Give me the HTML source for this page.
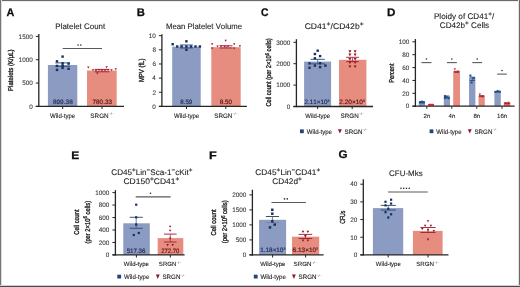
<!DOCTYPE html>
<html><head><meta charset="utf-8"><style>
html,body{margin:0;padding:0;background:#fff;}
body{width:520px;height:287px;overflow:hidden;position:relative;}
svg{position:absolute;left:0;top:0;display:block;will-change:transform;}
text{font-family:"Liberation Sans", sans-serif;font-kerning:none;text-rendering:geometricPrecision;}
</style></head><body>
<svg width="520" height="287" viewBox="0 0 520 287">
<rect x="0" y="0" width="520" height="287" fill="#fff"/>
<text x="6.53" y="15.50" font-size="11.0" font-weight="bold" fill="#0d0d0d" stroke="#0d0d0d" stroke-width="0.25" textLength="7.84" lengthAdjust="spacingAndGlyphs">A</text>
<text x="55.36" y="28.80" font-size="8.00" fill="#1c1c1c" stroke="#1c1c1c" stroke-width="0.1" textLength="49.81" lengthAdjust="spacingAndGlyphs">Platelet Count</text>
<rect x="47.90" y="65.00" width="29.40" height="41.40" fill="#8c9bc1"/>
<rect x="87.00" y="70.50" width="29.70" height="35.90" fill="#e68d80"/>
<line x1="38.80" y1="34.00" x2="38.80" y2="107.05" stroke="#252525" stroke-width="1.3"/>
<line x1="35.80" y1="106.40" x2="124.00" y2="106.40" stroke="#252525" stroke-width="1.3"/>
<line x1="35.80" y1="106.40" x2="38.80" y2="106.40" stroke="#252525" stroke-width="1"/>
<text x="29.27" y="108.69" font-size="6.40" fill="#3c3c3c" stroke="#3c3c3c" stroke-width="0.1" textLength="3.55" lengthAdjust="spacingAndGlyphs">0</text>
<line x1="35.80" y1="83.07" x2="38.80" y2="83.07" stroke="#252525" stroke-width="1"/>
<text x="22.17" y="85.36" font-size="6.40" fill="#3c3c3c" stroke="#3c3c3c" stroke-width="0.1" textLength="10.66" lengthAdjust="spacingAndGlyphs">500</text>
<line x1="35.80" y1="59.73" x2="38.80" y2="59.73" stroke="#252525" stroke-width="1"/>
<text x="18.62" y="62.02" font-size="6.40" fill="#3c3c3c" stroke="#3c3c3c" stroke-width="0.1" textLength="14.21" lengthAdjust="spacingAndGlyphs">1000</text>
<line x1="35.80" y1="36.40" x2="38.80" y2="36.40" stroke="#252525" stroke-width="1"/>
<text x="18.62" y="38.69" font-size="6.40" fill="#3c3c3c" stroke="#3c3c3c" stroke-width="0.1" textLength="14.21" lengthAdjust="spacingAndGlyphs">1500</text>
<line x1="62.70" y1="106.40" x2="62.70" y2="109.00" stroke="#252525" stroke-width="1"/>
<line x1="102.00" y1="106.40" x2="102.00" y2="109.00" stroke="#252525" stroke-width="1"/>
<text x="52.91" y="103.90" font-size="6.30" fill="#1e2a52" stroke="#1e2a52" stroke-width="0.16" textLength="19.85" lengthAdjust="spacingAndGlyphs">899.38</text>
<text x="92.58" y="103.90" font-size="6.30" fill="#561414" stroke="#561414" stroke-width="0.16" textLength="19.37" lengthAdjust="spacingAndGlyphs">780.33</text>
<text x="50.02" y="117.60" font-size="6.40" fill="#1c1c1c" stroke="#1c1c1c" stroke-width="0.1" textLength="25.20" lengthAdjust="spacingAndGlyphs">Wild-type</text>
<text x="90.37" y="117.60" font-size="6.40" fill="#1c1c1c" stroke="#1c1c1c" stroke-width="0.1" textLength="23.33" lengthAdjust="spacingAndGlyphs">SRGN<tspan dy="-2.30" font-size="3.52" fill="#a8a8a8">−/−</tspan></text>
<text x="0" y="0" font-size="7.10" fill="#1c1c1c" stroke="#1c1c1c" stroke-width="0.34" textLength="41.58" lengthAdjust="spacingAndGlyphs" transform="translate(13.10,90.99) rotate(-90)">Platelets (K/μL)</text>
<line x1="62.60" y1="48.55" x2="102.00" y2="48.55" stroke="#5a5a5a" stroke-width="1.1"/>
<circle cx="78.08" cy="44.95" r="0.8" fill="#2a2a2a"/>
<circle cx="80.83" cy="44.95" r="0.8" fill="#2a2a2a"/>
<line x1="62.70" y1="62.90" x2="62.70" y2="66.30" stroke="#2e5080" stroke-width="0.7124999999999999"/>
<line x1="55.30" y1="62.90" x2="70.10" y2="62.90" stroke="#2e5080" stroke-width="0.95"/>
<line x1="55.30" y1="66.30" x2="70.10" y2="66.30" stroke="#2e5080" stroke-width="0.95" stroke-opacity="1.0"/>
<rect x="61.40" y="55.40" width="2.40" height="2.40" fill="#16315e"/>
<rect x="55.80" y="60.10" width="2.40" height="2.40" fill="#16315e"/>
<rect x="61.40" y="62.10" width="2.40" height="2.40" fill="#16315e"/>
<rect x="67.40" y="62.40" width="2.40" height="2.40" fill="#16315e"/>
<rect x="55.80" y="64.70" width="2.40" height="2.40" fill="#16315e"/>
<rect x="61.40" y="64.40" width="2.40" height="2.40" fill="#16315e"/>
<rect x="61.40" y="66.70" width="2.40" height="2.40" fill="#16315e"/>
<rect x="67.40" y="67.60" width="2.40" height="2.40" fill="#16315e"/>
<rect x="55.80" y="68.70" width="2.40" height="2.40" fill="#16315e"/>
<line x1="102.00" y1="69.40" x2="102.00" y2="71.80" stroke="#a02535" stroke-width="0.7124999999999999"/>
<line x1="94.60" y1="69.40" x2="109.40" y2="69.40" stroke="#a02535" stroke-width="0.95"/>
<line x1="94.60" y1="71.80" x2="109.40" y2="71.80" stroke="#a02535" stroke-width="0.95" stroke-opacity="1.0"/>
<polygon points="87.10,66.58 89.50,66.58 88.30,68.62" fill="#a8132a"/>
<polygon points="105.40,66.18 107.80,66.18 106.60,68.22" fill="#a8132a"/>
<polygon points="114.60,68.28 117.00,68.28 115.80,70.32" fill="#a8132a"/>
<polygon points="91.80,69.18 94.20,69.18 93.00,71.22" fill="#a8132a"/>
<polygon points="94.80,69.38 97.20,69.38 96.00,71.42" fill="#a8132a"/>
<polygon points="97.80,68.98 100.20,68.98 99.00,71.02" fill="#a8132a"/>
<polygon points="100.80,69.18 103.20,69.18 102.00,71.22" fill="#a8132a"/>
<polygon points="103.80,69.38 106.20,69.38 105.00,71.42" fill="#a8132a"/>
<polygon points="106.80,69.08 109.20,69.08 108.00,71.12" fill="#a8132a"/>
<polygon points="110.30,69.28 112.70,69.28 111.50,71.32" fill="#a8132a"/>
<polygon points="96.10,72.48 98.50,72.48 97.30,74.52" fill="#a8132a"/>
<text x="136.86" y="15.50" font-size="11.0" font-weight="bold" fill="#0d0d0d" stroke="#0d0d0d" stroke-width="0.25" textLength="8.14" lengthAdjust="spacingAndGlyphs">B</text>
<text x="165.98" y="28.80" font-size="8.00" fill="#1c1c1c" stroke="#1c1c1c" stroke-width="0.1" textLength="76.07" lengthAdjust="spacingAndGlyphs">Mean Platelet Volume</text>
<rect x="172.20" y="46.60" width="28.50" height="59.80" fill="#8c9bc1"/>
<rect x="211.30" y="47.20" width="29.40" height="59.20" fill="#e68d80"/>
<line x1="161.90" y1="34.20" x2="161.90" y2="107.05" stroke="#252525" stroke-width="1.3"/>
<line x1="158.90" y1="106.40" x2="246.90" y2="106.40" stroke="#252525" stroke-width="1.3"/>
<line x1="158.90" y1="106.40" x2="161.90" y2="106.40" stroke="#252525" stroke-width="1"/>
<text x="152.37" y="108.69" font-size="6.40" fill="#3c3c3c" stroke="#3c3c3c" stroke-width="0.1" textLength="3.55" lengthAdjust="spacingAndGlyphs">0</text>
<line x1="158.90" y1="92.26" x2="161.90" y2="92.26" stroke="#252525" stroke-width="1"/>
<text x="152.47" y="94.55" font-size="6.40" fill="#3c3c3c" stroke="#3c3c3c" stroke-width="0.1" textLength="3.55" lengthAdjust="spacingAndGlyphs">2</text>
<line x1="158.90" y1="78.12" x2="161.90" y2="78.12" stroke="#252525" stroke-width="1"/>
<text x="152.34" y="80.41" font-size="6.40" fill="#3c3c3c" stroke="#3c3c3c" stroke-width="0.1" textLength="3.55" lengthAdjust="spacingAndGlyphs">4</text>
<line x1="158.90" y1="63.98" x2="161.90" y2="63.98" stroke="#252525" stroke-width="1"/>
<text x="152.40" y="66.27" font-size="6.40" fill="#3c3c3c" stroke="#3c3c3c" stroke-width="0.1" textLength="3.55" lengthAdjust="spacingAndGlyphs">6</text>
<line x1="158.90" y1="49.84" x2="161.90" y2="49.84" stroke="#252525" stroke-width="1"/>
<text x="152.40" y="52.13" font-size="6.40" fill="#3c3c3c" stroke="#3c3c3c" stroke-width="0.1" textLength="3.55" lengthAdjust="spacingAndGlyphs">8</text>
<line x1="158.90" y1="35.70" x2="161.90" y2="35.70" stroke="#252525" stroke-width="1"/>
<text x="148.82" y="37.99" font-size="6.40" fill="#3c3c3c" stroke="#3c3c3c" stroke-width="0.1" textLength="7.10" lengthAdjust="spacingAndGlyphs">10</text>
<line x1="186.50" y1="106.40" x2="186.50" y2="109.00" stroke="#252525" stroke-width="1"/>
<line x1="225.80" y1="106.40" x2="225.80" y2="109.00" stroke="#252525" stroke-width="1"/>
<text x="180.33" y="103.80" font-size="6.30" fill="#1e2a52" stroke="#1e2a52" stroke-width="0.16" textLength="11.85" lengthAdjust="spacingAndGlyphs">8.59</text>
<text x="219.71" y="103.80" font-size="6.30" fill="#561414" stroke="#561414" stroke-width="0.16" textLength="12.41" lengthAdjust="spacingAndGlyphs">8.50</text>
<text x="174.02" y="117.60" font-size="6.40" fill="#1c1c1c" stroke="#1c1c1c" stroke-width="0.1" textLength="25.20" lengthAdjust="spacingAndGlyphs">Wild-type</text>
<text x="214.17" y="117.60" font-size="6.40" fill="#1c1c1c" stroke="#1c1c1c" stroke-width="0.1" textLength="23.33" lengthAdjust="spacingAndGlyphs">SRGN<tspan dy="-2.30" font-size="3.52" fill="#a8a8a8">−/−</tspan></text>
<text x="0" y="0" font-size="7.30" fill="#1c1c1c" stroke="#1c1c1c" stroke-width="0.34" textLength="23.46" lengthAdjust="spacingAndGlyphs" transform="translate(143.60,82.08) rotate(-90)">MPV (fL)</text>
<line x1="186.40" y1="45.00" x2="186.40" y2="48.00" stroke="#2e5080" stroke-width="0.7124999999999999"/>
<line x1="179.90" y1="45.00" x2="192.90" y2="45.00" stroke="#2e5080" stroke-width="0.95"/>
<line x1="179.90" y1="48.00" x2="192.90" y2="48.00" stroke="#2e5080" stroke-width="0.95" stroke-opacity="1.0"/>
<rect x="171.50" y="43.00" width="2.40" height="2.40" fill="#16315e"/>
<rect x="185.20" y="40.10" width="2.40" height="2.40" fill="#16315e"/>
<rect x="176.00" y="45.30" width="2.40" height="2.40" fill="#16315e"/>
<rect x="180.40" y="45.30" width="2.40" height="2.40" fill="#16315e"/>
<rect x="185.20" y="45.30" width="2.40" height="2.40" fill="#16315e"/>
<rect x="189.80" y="45.30" width="2.40" height="2.40" fill="#16315e"/>
<rect x="194.30" y="45.30" width="2.40" height="2.40" fill="#16315e"/>
<rect x="198.70" y="45.30" width="2.40" height="2.40" fill="#16315e"/>
<rect x="185.20" y="48.60" width="2.40" height="2.40" fill="#16315e"/>
<line x1="226.00" y1="45.80" x2="226.00" y2="48.00" stroke="#a02535" stroke-width="0.7124999999999999"/>
<line x1="219.50" y1="45.80" x2="232.50" y2="45.80" stroke="#a02535" stroke-width="0.95"/>
<line x1="219.50" y1="48.00" x2="232.50" y2="48.00" stroke="#a02535" stroke-width="0.95" stroke-opacity="1.0"/>
<polygon points="224.50,39.68 226.90,39.68 225.70,41.72" fill="#a8132a"/>
<polygon points="210.90,43.18 213.30,43.18 212.10,45.22" fill="#a8132a"/>
<polygon points="233.00,43.18 235.40,43.18 234.20,45.22" fill="#a8132a"/>
<polygon points="238.70,45.28 241.10,45.28 239.90,47.32" fill="#a8132a"/>
<polygon points="216.30,45.58 218.70,45.58 217.50,47.62" fill="#a8132a"/>
<polygon points="219.80,45.58 222.20,45.58 221.00,47.62" fill="#a8132a"/>
<polygon points="223.30,45.58 225.70,45.58 224.50,47.62" fill="#a8132a"/>
<polygon points="226.80,45.58 229.20,45.58 228.00,47.62" fill="#a8132a"/>
<polygon points="210.90,47.48 213.30,47.48 212.10,49.52" fill="#a8132a"/>
<polygon points="233.00,47.48 235.40,47.48 234.20,49.52" fill="#a8132a"/>
<text x="261.08" y="15.50" font-size="11.0" font-weight="bold" fill="#0d0d0d" stroke="#0d0d0d" stroke-width="0.25" textLength="7.47" lengthAdjust="spacingAndGlyphs">C</text>
<text x="304.67" y="28.90" font-size="8.10" fill="#1c1c1c" stroke="#1c1c1c" stroke-width="0.1" textLength="58.93" lengthAdjust="spacingAndGlyphs">CD41<tspan dy="-2.92" font-size="6.32">+</tspan><tspan dy="2.92">/CD42b</tspan><tspan dy="-2.92" font-size="6.32">+</tspan></text>
<rect x="304.10" y="61.60" width="27.00" height="44.90" fill="#8c9bc1"/>
<rect x="339.00" y="59.80" width="27.40" height="46.70" fill="#e68d80"/>
<line x1="296.40" y1="39.20" x2="296.40" y2="107.15" stroke="#252525" stroke-width="1.3"/>
<line x1="293.40" y1="106.50" x2="373.00" y2="106.50" stroke="#252525" stroke-width="1.3"/>
<line x1="293.40" y1="106.50" x2="296.40" y2="106.50" stroke="#252525" stroke-width="1"/>
<text x="286.87" y="108.79" font-size="6.40" fill="#3c3c3c" stroke="#3c3c3c" stroke-width="0.1" textLength="3.55" lengthAdjust="spacingAndGlyphs">0</text>
<line x1="293.40" y1="85.10" x2="296.40" y2="85.10" stroke="#252525" stroke-width="1"/>
<text x="276.22" y="87.39" font-size="6.40" fill="#3c3c3c" stroke="#3c3c3c" stroke-width="0.1" textLength="14.21" lengthAdjust="spacingAndGlyphs">1000</text>
<line x1="293.40" y1="63.70" x2="296.40" y2="63.70" stroke="#252525" stroke-width="1"/>
<text x="276.22" y="65.99" font-size="6.40" fill="#3c3c3c" stroke="#3c3c3c" stroke-width="0.1" textLength="14.21" lengthAdjust="spacingAndGlyphs">2000</text>
<line x1="293.40" y1="42.30" x2="296.40" y2="42.30" stroke="#252525" stroke-width="1"/>
<text x="276.22" y="44.59" font-size="6.40" fill="#3c3c3c" stroke="#3c3c3c" stroke-width="0.1" textLength="14.21" lengthAdjust="spacingAndGlyphs">3000</text>
<line x1="317.60" y1="106.50" x2="317.60" y2="109.10" stroke="#252525" stroke-width="1"/>
<line x1="352.20" y1="106.50" x2="352.20" y2="109.10" stroke="#252525" stroke-width="1"/>
<text x="304.48" y="104.20" font-size="6.30" fill="#1e2a52" stroke="#1e2a52" stroke-width="0.16" textLength="24.97" lengthAdjust="spacingAndGlyphs">2.11×10<tspan dy="-2.27" font-size="3.47">3</tspan></text>
<text x="339.27" y="104.20" font-size="6.30" fill="#561414" stroke="#561414" stroke-width="0.16" textLength="25.69" lengthAdjust="spacingAndGlyphs">2.20×10<tspan dy="-2.27" font-size="3.47">3</tspan></text>
<text x="305.27" y="117.60" font-size="6.30" fill="#1c1c1c" stroke="#1c1c1c" stroke-width="0.1" textLength="24.90" lengthAdjust="spacingAndGlyphs">Wild-type</text>
<text x="340.60" y="117.60" font-size="6.30" fill="#1c1c1c" stroke="#1c1c1c" stroke-width="0.1" textLength="23.07" lengthAdjust="spacingAndGlyphs">SRGN<tspan dy="-2.27" font-size="3.47" fill="#a8a8a8">−/−</tspan></text>
<text x="0" y="0" font-size="7.10" fill="#1c1c1c" stroke="#1c1c1c" stroke-width="0.34" textLength="68.35" lengthAdjust="spacingAndGlyphs" transform="translate(271.40,106.58) rotate(-90)">Cell count (per 2×10<tspan dy="-2.56" font-size="5.54">6</tspan><tspan dy="2.56"> cells)</tspan></text>
<rect x="300.00" y="129.40" width="3.80" height="3.80" fill="#24427c"/>
<text x="306.77" y="133.50" font-size="6.40" fill="#1c1c1c" stroke="#1c1c1c" stroke-width="0.1" textLength="25.20" lengthAdjust="spacingAndGlyphs">Wild-type</text>
<polygon points="338.00,129.20 341.80,129.20 339.90,133.60" fill="#8e1526"/>
<text x="344.52" y="133.50" font-size="6.40" fill="#1c1c1c" stroke="#1c1c1c" stroke-width="0.1" textLength="22.93" lengthAdjust="spacingAndGlyphs">SRGN<tspan dy="-2.30" font-size="3.52" fill="#a8a8a8">−/−</tspan></text>
<line x1="317.70" y1="59.30" x2="317.70" y2="63.80" stroke="#2e5080" stroke-width="0.7124999999999999"/>
<line x1="310.50" y1="59.30" x2="324.90" y2="59.30" stroke="#2e5080" stroke-width="0.95"/>
<line x1="310.50" y1="63.80" x2="324.90" y2="63.80" stroke="#2e5080" stroke-width="0.95" stroke-opacity="1.0"/>
<rect x="316.50" y="49.50" width="2.40" height="2.40" fill="#16315e"/>
<rect x="313.70" y="52.80" width="2.40" height="2.40" fill="#16315e"/>
<rect x="318.90" y="54.90" width="2.40" height="2.40" fill="#16315e"/>
<rect x="313.70" y="57.10" width="2.40" height="2.40" fill="#16315e"/>
<rect x="308.30" y="62.20" width="2.40" height="2.40" fill="#16315e"/>
<rect x="318.90" y="62.00" width="2.40" height="2.40" fill="#16315e"/>
<rect x="313.70" y="64.40" width="2.40" height="2.40" fill="#16315e"/>
<rect x="324.20" y="64.40" width="2.40" height="2.40" fill="#16315e"/>
<rect x="308.30" y="66.60" width="2.40" height="2.40" fill="#16315e"/>
<rect x="318.90" y="65.90" width="2.40" height="2.40" fill="#16315e"/>
<line x1="352.50" y1="57.30" x2="352.50" y2="61.70" stroke="#a02535" stroke-width="0.7124999999999999"/>
<line x1="346.10" y1="57.30" x2="358.90" y2="57.30" stroke="#a02535" stroke-width="0.95"/>
<line x1="346.10" y1="61.70" x2="358.90" y2="61.70" stroke="#a02535" stroke-width="0.95" stroke-opacity="1.0"/>
<polygon points="348.40,50.33 351.40,50.33 349.90,52.88" fill="#8e1222"/>
<polygon points="353.60,50.33 356.60,50.33 355.10,52.88" fill="#8e1222"/>
<polygon points="348.40,53.62 351.40,53.62 349.90,56.17" fill="#8e1222"/>
<polygon points="353.60,53.62 356.60,53.62 355.10,56.17" fill="#8e1222"/>
<polygon points="348.40,58.02 351.40,58.02 349.90,60.57" fill="#8e1222"/>
<polygon points="353.60,58.02 356.60,58.02 355.10,60.57" fill="#8e1222"/>
<polygon points="348.40,61.33 351.40,61.33 349.90,63.88" fill="#8e1222"/>
<polygon points="353.60,61.33 356.60,61.33 355.10,63.88" fill="#8e1222"/>
<polygon points="348.40,65.52 351.40,65.52 349.90,68.08" fill="#8e1222"/>
<polygon points="353.60,65.52 356.60,65.52 355.10,68.08" fill="#8e1222"/>
<text x="387.04" y="15.50" font-size="11.0" font-weight="bold" fill="#0d0d0d" stroke="#0d0d0d" stroke-width="0.25" textLength="8.43" lengthAdjust="spacingAndGlyphs">D</text>
<text x="433.95" y="19.10" font-size="8.10" fill="#1c1c1c" stroke="#1c1c1c" stroke-width="0.1" textLength="60.25" lengthAdjust="spacingAndGlyphs">Ploidy of CD41<tspan dy="-2.92" font-size="6.32">+</tspan><tspan dy="2.92">/</tspan></text>
<text x="439.79" y="27.70" font-size="8.10" fill="#1c1c1c" stroke="#1c1c1c" stroke-width="0.1" textLength="49.39" lengthAdjust="spacingAndGlyphs">CD42b<tspan dy="-2.92" font-size="6.32">+</tspan><tspan dy="2.92"> Cells</tspan></text>
<rect x="418.80" y="101.40" width="6.20" height="4.80" fill="#8c9bc1"/>
<rect x="428.00" y="104.20" width="6.10" height="2.00" fill="#e68d80"/>
<rect x="443.80" y="96.30" width="6.20" height="9.90" fill="#8c9bc1"/>
<rect x="453.20" y="70.90" width="6.80" height="35.30" fill="#e68d80"/>
<rect x="469.00" y="77.50" width="6.40" height="28.70" fill="#8c9bc1"/>
<rect x="478.50" y="95.70" width="6.30" height="10.50" fill="#e68d80"/>
<rect x="494.40" y="90.80" width="6.40" height="15.40" fill="#8c9bc1"/>
<rect x="503.80" y="102.20" width="6.30" height="4.00" fill="#e68d80"/>
<line x1="415.40" y1="39.00" x2="415.40" y2="106.85" stroke="#252525" stroke-width="1.3"/>
<line x1="412.40" y1="106.20" x2="514.60" y2="106.20" stroke="#252525" stroke-width="1.3"/>
<line x1="412.40" y1="106.20" x2="415.40" y2="106.20" stroke="#252525" stroke-width="1"/>
<text x="405.87" y="108.49" font-size="6.40" fill="#3c3c3c" stroke="#3c3c3c" stroke-width="0.1" textLength="3.55" lengthAdjust="spacingAndGlyphs">0</text>
<line x1="412.40" y1="93.32" x2="415.40" y2="93.32" stroke="#252525" stroke-width="1"/>
<text x="402.32" y="95.61" font-size="6.40" fill="#3c3c3c" stroke="#3c3c3c" stroke-width="0.1" textLength="7.10" lengthAdjust="spacingAndGlyphs">20</text>
<line x1="412.40" y1="80.44" x2="415.40" y2="80.44" stroke="#252525" stroke-width="1"/>
<text x="402.32" y="82.73" font-size="6.40" fill="#3c3c3c" stroke="#3c3c3c" stroke-width="0.1" textLength="7.10" lengthAdjust="spacingAndGlyphs">40</text>
<line x1="412.40" y1="67.56" x2="415.40" y2="67.56" stroke="#252525" stroke-width="1"/>
<text x="402.32" y="69.85" font-size="6.40" fill="#3c3c3c" stroke="#3c3c3c" stroke-width="0.1" textLength="7.10" lengthAdjust="spacingAndGlyphs">60</text>
<line x1="412.40" y1="54.68" x2="415.40" y2="54.68" stroke="#252525" stroke-width="1"/>
<text x="402.32" y="56.97" font-size="6.40" fill="#3c3c3c" stroke="#3c3c3c" stroke-width="0.1" textLength="7.10" lengthAdjust="spacingAndGlyphs">80</text>
<line x1="412.40" y1="41.80" x2="415.40" y2="41.80" stroke="#252525" stroke-width="1"/>
<text x="398.77" y="44.09" font-size="6.40" fill="#3c3c3c" stroke="#3c3c3c" stroke-width="0.1" textLength="10.66" lengthAdjust="spacingAndGlyphs">100</text>
<line x1="426.80" y1="106.20" x2="426.80" y2="108.80" stroke="#252525" stroke-width="1"/>
<line x1="451.80" y1="106.20" x2="451.80" y2="108.80" stroke="#252525" stroke-width="1"/>
<line x1="476.80" y1="106.20" x2="476.80" y2="108.80" stroke="#252525" stroke-width="1"/>
<line x1="502.00" y1="106.20" x2="502.00" y2="108.80" stroke="#252525" stroke-width="1"/>
<text x="423.56" y="117.80" font-size="6.10" fill="#1c1c1c" stroke="#1c1c1c" stroke-width="0.1" textLength="6.77" lengthAdjust="spacingAndGlyphs">2n</text>
<text x="448.55" y="117.80" font-size="6.10" fill="#1c1c1c" stroke="#1c1c1c" stroke-width="0.1" textLength="6.77" lengthAdjust="spacingAndGlyphs">4n</text>
<text x="473.38" y="117.80" font-size="6.10" fill="#1c1c1c" stroke="#1c1c1c" stroke-width="0.1" textLength="6.77" lengthAdjust="spacingAndGlyphs">8n</text>
<text x="497.09" y="117.80" font-size="6.10" fill="#1c1c1c" stroke="#1c1c1c" stroke-width="0.1" textLength="10.16" lengthAdjust="spacingAndGlyphs">16n</text>
<text x="0" y="0" font-size="7.20" fill="#1c1c1c" stroke="#1c1c1c" stroke-width="0.34" textLength="19.10" lengthAdjust="spacingAndGlyphs" transform="translate(394.30,82.64) rotate(-90)">Percent</text>
<line x1="421.40" y1="62.60" x2="431.50" y2="62.60" stroke="#5a5a5a" stroke-width="1.1"/>
<circle cx="426.45" cy="59.00" r="0.8" fill="#2a2a2a"/>
<line x1="446.90" y1="62.60" x2="456.80" y2="62.60" stroke="#5a5a5a" stroke-width="1.1"/>
<circle cx="451.85" cy="59.00" r="0.8" fill="#2a2a2a"/>
<line x1="472.30" y1="62.60" x2="482.10" y2="62.60" stroke="#5a5a5a" stroke-width="1.1"/>
<circle cx="477.20" cy="59.00" r="0.8" fill="#2a2a2a"/>
<line x1="497.20" y1="74.10" x2="506.80" y2="74.10" stroke="#5a5a5a" stroke-width="1.1"/>
<circle cx="502.00" cy="70.50" r="0.8" fill="#2a2a2a"/>
<rect x="419.00" y="101.30" width="5.80" height="2.20" fill="#21508c"/>
<rect x="419.30" y="101.00" width="1.80" height="1.80" fill="#21508c"/>
<rect x="421.10" y="100.60" width="1.80" height="1.80" fill="#21508c"/>
<rect x="422.70" y="101.30" width="1.80" height="1.80" fill="#21508c"/>
<rect x="428.10" y="104.20" width="5.90" height="1.60" fill="#c42034"/>
<polygon points="428.70,103.66 430.90,103.66 429.80,105.53" fill="#c42034"/>
<polygon points="431.10,103.66 433.30,103.66 432.20,105.53" fill="#c42034"/>
<line x1="446.80" y1="96.00" x2="446.80" y2="98.00" stroke="#2e5080" stroke-width="0.675"/>
<line x1="444.20" y1="96.00" x2="449.40" y2="96.00" stroke="#2e5080" stroke-width="0.9"/>
<line x1="444.20" y1="98.00" x2="449.40" y2="98.00" stroke="#2e5080" stroke-width="0.9" stroke-opacity="1.0"/>
<rect x="443.95" y="94.95" width="2.10" height="2.10" fill="#21508c"/>
<rect x="443.95" y="96.95" width="2.10" height="2.10" fill="#21508c"/>
<rect x="447.65" y="97.15" width="2.10" height="2.10" fill="#21508c"/>
<rect x="445.45" y="95.95" width="2.10" height="2.10" fill="#21508c"/>
<line x1="456.60" y1="71.30" x2="456.60" y2="72.40" stroke="#a02535" stroke-width="0.675"/>
<line x1="454.00" y1="71.30" x2="459.20" y2="71.30" stroke="#a02535" stroke-width="0.9"/>
<line x1="454.00" y1="72.40" x2="459.20" y2="72.40" stroke="#a02535" stroke-width="0.9" stroke-opacity="1.0"/>
<polygon points="453.60,68.28 456.00,68.28 454.80,70.32" fill="#c42034"/>
<polygon points="457.00,70.78 459.40,70.78 458.20,72.82" fill="#c42034"/>
<line x1="472.40" y1="77.20" x2="472.40" y2="80.50" stroke="#2e5080" stroke-width="0.675"/>
<line x1="469.80" y1="77.20" x2="475.00" y2="77.20" stroke="#2e5080" stroke-width="0.9"/>
<line x1="469.80" y1="80.50" x2="475.00" y2="80.50" stroke="#2e5080" stroke-width="0.9" stroke-opacity="1.0"/>
<rect x="469.35" y="74.55" width="2.10" height="2.10" fill="#21508c"/>
<rect x="472.75" y="77.15" width="2.10" height="2.10" fill="#21508c"/>
<rect x="470.55" y="81.45" width="2.10" height="2.10" fill="#21508c"/>
<line x1="481.60" y1="95.60" x2="481.60" y2="96.60" stroke="#a02535" stroke-width="0.675"/>
<line x1="479.00" y1="95.60" x2="484.20" y2="95.60" stroke="#a02535" stroke-width="0.9"/>
<line x1="479.00" y1="96.60" x2="484.20" y2="96.60" stroke="#a02535" stroke-width="0.9" stroke-opacity="1.0"/>
<polygon points="478.60,93.48 481.00,93.48 479.80,95.52" fill="#c42034"/>
<polygon points="481.10,95.98 483.50,95.98 482.30,98.02" fill="#c42034"/>
<rect x="494.60" y="91.00" width="6.10" height="1.60" fill="#21508c"/>
<rect x="494.65" y="91.05" width="1.90" height="1.90" fill="#21508c"/>
<rect x="496.65" y="89.95" width="1.90" height="1.90" fill="#21508c"/>
<rect x="498.65" y="90.65" width="1.90" height="1.90" fill="#21508c"/>
<rect x="504.20" y="102.60" width="6.00" height="1.80" fill="#c42034"/>
<polygon points="504.50,101.97 506.70,101.97 505.60,103.84" fill="#c42034"/>
<polygon points="507.30,101.66 509.50,101.66 508.40,103.53" fill="#c42034"/>
<rect x="429.60" y="129.40" width="3.80" height="3.80" fill="#24427c"/>
<text x="436.37" y="133.50" font-size="6.40" fill="#1c1c1c" stroke="#1c1c1c" stroke-width="0.1" textLength="25.20" lengthAdjust="spacingAndGlyphs">Wild-type</text>
<polygon points="467.90,129.20 471.70,129.20 469.80,133.60" fill="#8e1526"/>
<text x="474.42" y="133.50" font-size="6.40" fill="#1c1c1c" stroke="#1c1c1c" stroke-width="0.1" textLength="22.93" lengthAdjust="spacingAndGlyphs">SRGN<tspan dy="-2.30" font-size="3.52" fill="#a8a8a8">−/−</tspan></text>
<text x="71.32" y="158.70" font-size="11.0" font-weight="bold" fill="#0d0d0d" stroke="#0d0d0d" stroke-width="0.25" textLength="8.00" lengthAdjust="spacingAndGlyphs">E</text>
<text x="111.29" y="174.90" font-size="8.10" fill="#1c1c1c" stroke="#1c1c1c" stroke-width="0.1" textLength="81.19" lengthAdjust="spacingAndGlyphs">CD45<tspan dy="-2.92" font-size="6.32">+</tspan><tspan dy="2.92">Lin</tspan><tspan dy="-2.92" font-size="6.32">−</tspan><tspan dy="2.92">Sca-1</tspan><tspan dy="-2.92" font-size="6.32">−</tspan><tspan dy="2.92">cKit</tspan><tspan dy="-2.92" font-size="6.32">+</tspan></text>
<text x="123.47" y="184.40" font-size="8.10" fill="#1c1c1c" stroke="#1c1c1c" stroke-width="0.1" textLength="55.92" lengthAdjust="spacingAndGlyphs">CD150<tspan dy="-2.92" font-size="6.32">+</tspan><tspan dy="2.92">CD41</tspan><tspan dy="-2.92" font-size="6.32">+</tspan></text>
<rect x="123.30" y="223.30" width="26.50" height="31.60" fill="#8c9bc1"/>
<rect x="157.70" y="238.10" width="25.60" height="16.80" fill="#e68d80"/>
<line x1="115.40" y1="190.10" x2="115.40" y2="255.55" stroke="#252525" stroke-width="1.3"/>
<line x1="112.40" y1="254.90" x2="184.60" y2="254.90" stroke="#252525" stroke-width="1.3"/>
<line x1="112.40" y1="254.90" x2="115.40" y2="254.90" stroke="#252525" stroke-width="1"/>
<text x="105.87" y="257.19" font-size="6.40" fill="#3c3c3c" stroke="#3c3c3c" stroke-width="0.1" textLength="3.55" lengthAdjust="spacingAndGlyphs">0</text>
<line x1="112.40" y1="242.44" x2="115.40" y2="242.44" stroke="#252525" stroke-width="1"/>
<text x="98.77" y="244.73" font-size="6.40" fill="#3c3c3c" stroke="#3c3c3c" stroke-width="0.1" textLength="10.66" lengthAdjust="spacingAndGlyphs">200</text>
<line x1="112.40" y1="229.98" x2="115.40" y2="229.98" stroke="#252525" stroke-width="1"/>
<text x="98.77" y="232.27" font-size="6.40" fill="#3c3c3c" stroke="#3c3c3c" stroke-width="0.1" textLength="10.66" lengthAdjust="spacingAndGlyphs">400</text>
<line x1="112.40" y1="217.52" x2="115.40" y2="217.52" stroke="#252525" stroke-width="1"/>
<text x="98.77" y="219.81" font-size="6.40" fill="#3c3c3c" stroke="#3c3c3c" stroke-width="0.1" textLength="10.66" lengthAdjust="spacingAndGlyphs">600</text>
<line x1="112.40" y1="205.06" x2="115.40" y2="205.06" stroke="#252525" stroke-width="1"/>
<text x="98.77" y="207.35" font-size="6.40" fill="#3c3c3c" stroke="#3c3c3c" stroke-width="0.1" textLength="10.66" lengthAdjust="spacingAndGlyphs">800</text>
<line x1="112.40" y1="192.60" x2="115.40" y2="192.60" stroke="#252525" stroke-width="1"/>
<text x="95.22" y="194.89" font-size="6.40" fill="#3c3c3c" stroke="#3c3c3c" stroke-width="0.1" textLength="14.21" lengthAdjust="spacingAndGlyphs">1000</text>
<line x1="136.40" y1="254.90" x2="136.40" y2="257.50" stroke="#252525" stroke-width="1"/>
<line x1="170.30" y1="254.90" x2="170.30" y2="257.50" stroke="#252525" stroke-width="1"/>
<text x="126.65" y="252.60" font-size="6.30" fill="#1e2a52" stroke="#1e2a52" stroke-width="0.16" textLength="18.79" lengthAdjust="spacingAndGlyphs">517.36</text>
<text x="161.20" y="252.60" font-size="6.30" fill="#561414" stroke="#561414" stroke-width="0.16" textLength="18.21" lengthAdjust="spacingAndGlyphs">272.70</text>
<text x="123.82" y="266.10" font-size="6.10" fill="#1c1c1c" stroke="#1c1c1c" stroke-width="0.1" textLength="25.00" lengthAdjust="spacingAndGlyphs">Wild-type</text>
<text x="158.84" y="266.10" font-size="6.10" fill="#1c1c1c" stroke="#1c1c1c" stroke-width="0.1" textLength="22.40" lengthAdjust="spacingAndGlyphs">SRGN<tspan dy="-2.20" font-size="3.35" fill="#a8a8a8">−/−</tspan></text>
<text x="0" y="0" font-size="7.10" fill="#1c1c1c" stroke="#1c1c1c" stroke-width="0.34" textLength="25.14" lengthAdjust="spacingAndGlyphs" transform="translate(78.70,234.68) rotate(-90)">Cell count</text>
<text x="0" y="0" font-size="7.10" fill="#1c1c1c" stroke="#1c1c1c" stroke-width="0.34" textLength="42.62" lengthAdjust="spacingAndGlyphs" transform="translate(89.80,243.55) rotate(-90)">(per 2×10<tspan dy="-2.56" font-size="5.54">6</tspan><tspan dy="2.56"> cells)</tspan></text>
<line x1="135.70" y1="196.90" x2="170.60" y2="196.90" stroke="#5a5a5a" stroke-width="1.1"/>
<circle cx="150.50" cy="193.30" r="0.8" fill="#2a2a2a"/>
<line x1="136.20" y1="217.30" x2="136.20" y2="228.30" stroke="#2e5080" stroke-width="0.7124999999999999"/>
<line x1="129.60" y1="217.30" x2="142.80" y2="217.30" stroke="#2e5080" stroke-width="0.95"/>
<line x1="129.60" y1="228.30" x2="142.80" y2="228.30" stroke="#2e5080" stroke-width="0.95" stroke-opacity="1.0"/>
<rect x="135.10" y="203.60" width="2.20" height="2.20" fill="#16315e"/>
<rect x="135.10" y="216.20" width="2.20" height="2.20" fill="#16315e"/>
<rect x="135.10" y="223.40" width="2.20" height="2.20" fill="#16315e"/>
<rect x="132.70" y="233.90" width="2.20" height="2.20" fill="#16315e"/>
<rect x="137.70" y="231.90" width="2.20" height="2.20" fill="#16315e"/>
<line x1="170.30" y1="234.10" x2="170.30" y2="242.00" stroke="#a02535" stroke-width="0.7124999999999999"/>
<line x1="164.00" y1="234.10" x2="176.60" y2="234.10" stroke="#a02535" stroke-width="0.95"/>
<line x1="164.00" y1="242.00" x2="176.60" y2="242.00" stroke="#a02535" stroke-width="0.95" stroke-opacity="1.0"/>
<polygon points="168.85,225.74 171.35,225.74 170.10,227.86" fill="#8e1222"/>
<polygon points="168.85,229.64 171.35,229.64 170.10,231.76" fill="#8e1222"/>
<polygon points="168.85,237.44 171.35,237.44 170.10,239.56" fill="#8e1222"/>
<polygon points="166.35,244.04 168.85,244.04 167.60,246.16" fill="#8e1222"/>
<polygon points="171.45,244.04 173.95,244.04 172.70,246.16" fill="#8e1222"/>
<rect x="117.30" y="274.70" width="3.80" height="3.80" fill="#24427c"/>
<text x="124.07" y="278.80" font-size="6.40" fill="#1c1c1c" stroke="#1c1c1c" stroke-width="0.1" textLength="25.20" lengthAdjust="spacingAndGlyphs">Wild-type</text>
<polygon points="155.90,274.50 159.70,274.50 157.80,278.90" fill="#8e1526"/>
<text x="162.42" y="278.80" font-size="6.40" fill="#1c1c1c" stroke="#1c1c1c" stroke-width="0.1" textLength="22.93" lengthAdjust="spacingAndGlyphs">SRGN<tspan dy="-2.30" font-size="3.52" fill="#a8a8a8">−/−</tspan></text>
<text x="208.97" y="158.70" font-size="11.0" font-weight="bold" fill="#0d0d0d" stroke="#0d0d0d" stroke-width="0.25" textLength="7.77" lengthAdjust="spacingAndGlyphs">F</text>
<text x="255.38" y="175.00" font-size="8.10" fill="#1c1c1c" stroke="#1c1c1c" stroke-width="0.1" textLength="64.91" lengthAdjust="spacingAndGlyphs">CD45<tspan dy="-2.92" font-size="6.32">+</tspan><tspan dy="2.92">Lin</tspan><tspan dy="-2.92" font-size="6.32">−</tspan><tspan dy="2.92">CD41</tspan><tspan dy="-2.92" font-size="6.32">+</tspan></text>
<text x="272.39" y="183.80" font-size="8.10" fill="#1c1c1c" stroke="#1c1c1c" stroke-width="0.1" textLength="29.40" lengthAdjust="spacingAndGlyphs">CD42d<tspan dy="-2.92" font-size="6.32">+</tspan></text>
<rect x="259.10" y="219.80" width="27.00" height="35.10" fill="#8c9bc1"/>
<rect x="292.00" y="236.70" width="27.20" height="18.20" fill="#e68d80"/>
<line x1="252.40" y1="189.70" x2="252.40" y2="255.55" stroke="#252525" stroke-width="1.3"/>
<line x1="249.40" y1="254.90" x2="323.60" y2="254.90" stroke="#252525" stroke-width="1.3"/>
<line x1="249.40" y1="254.90" x2="252.40" y2="254.90" stroke="#252525" stroke-width="1"/>
<text x="242.87" y="257.19" font-size="6.40" fill="#3c3c3c" stroke="#3c3c3c" stroke-width="0.1" textLength="3.55" lengthAdjust="spacingAndGlyphs">0</text>
<line x1="249.40" y1="239.90" x2="252.40" y2="239.90" stroke="#252525" stroke-width="1"/>
<text x="235.77" y="242.19" font-size="6.40" fill="#3c3c3c" stroke="#3c3c3c" stroke-width="0.1" textLength="10.66" lengthAdjust="spacingAndGlyphs">500</text>
<line x1="249.40" y1="224.90" x2="252.40" y2="224.90" stroke="#252525" stroke-width="1"/>
<text x="232.22" y="227.19" font-size="6.40" fill="#3c3c3c" stroke="#3c3c3c" stroke-width="0.1" textLength="14.21" lengthAdjust="spacingAndGlyphs">1000</text>
<line x1="249.40" y1="209.90" x2="252.40" y2="209.90" stroke="#252525" stroke-width="1"/>
<text x="232.22" y="212.19" font-size="6.40" fill="#3c3c3c" stroke="#3c3c3c" stroke-width="0.1" textLength="14.21" lengthAdjust="spacingAndGlyphs">1500</text>
<line x1="249.40" y1="194.90" x2="252.40" y2="194.90" stroke="#252525" stroke-width="1"/>
<text x="232.22" y="197.19" font-size="6.40" fill="#3c3c3c" stroke="#3c3c3c" stroke-width="0.1" textLength="14.21" lengthAdjust="spacingAndGlyphs">2000</text>
<line x1="272.60" y1="254.90" x2="272.60" y2="257.50" stroke="#252525" stroke-width="1"/>
<line x1="305.60" y1="254.90" x2="305.60" y2="257.50" stroke="#252525" stroke-width="1"/>
<text x="260.32" y="252.20" font-size="6.30" fill="#1e2a52" stroke="#1e2a52" stroke-width="0.16" textLength="25.03" lengthAdjust="spacingAndGlyphs">1.18×10<tspan dy="-2.27" font-size="3.47">3</tspan></text>
<text x="292.58" y="252.20" font-size="6.30" fill="#561414" stroke="#561414" stroke-width="0.16" textLength="25.48" lengthAdjust="spacingAndGlyphs">6.13×10<tspan dy="-2.27" font-size="3.47">2</tspan></text>
<text x="260.22" y="266.10" font-size="6.10" fill="#1c1c1c" stroke="#1c1c1c" stroke-width="0.1" textLength="25.20" lengthAdjust="spacingAndGlyphs">Wild-type</text>
<text x="293.57" y="266.10" font-size="6.10" fill="#1c1c1c" stroke="#1c1c1c" stroke-width="0.1" textLength="22.93" lengthAdjust="spacingAndGlyphs">SRGN<tspan dy="-2.20" font-size="3.35" fill="#a8a8a8">−/−</tspan></text>
<text x="0" y="0" font-size="7.10" fill="#1c1c1c" stroke="#1c1c1c" stroke-width="0.34" textLength="26.15" lengthAdjust="spacingAndGlyphs" transform="translate(215.50,235.49) rotate(-90)">Cell count</text>
<text x="0" y="0" font-size="7.10" fill="#1c1c1c" stroke="#1c1c1c" stroke-width="0.34" textLength="42.93" lengthAdjust="spacingAndGlyphs" transform="translate(227.30,243.25) rotate(-90)">(per 2×10<tspan dy="-2.56" font-size="5.54">6</tspan><tspan dy="2.56"> cells)</tspan></text>
<line x1="271.50" y1="202.50" x2="305.90" y2="202.50" stroke="#5a5a5a" stroke-width="1.1"/>
<circle cx="284.52" cy="198.90" r="0.8" fill="#2a2a2a"/>
<circle cx="287.27" cy="198.90" r="0.8" fill="#2a2a2a"/>
<line x1="272.40" y1="216.50" x2="272.40" y2="222.50" stroke="#3a4658" stroke-width="0.7124999999999999"/>
<line x1="265.80" y1="216.50" x2="279.00" y2="216.50" stroke="#3a4658" stroke-width="0.95"/>
<line x1="265.80" y1="222.50" x2="279.00" y2="222.50" stroke="#3a4658" stroke-width="0.95" stroke-opacity="0.25"/>
<rect x="271.05" y="208.55" width="2.50" height="2.50" fill="#16315e"/>
<rect x="271.05" y="212.45" width="2.50" height="2.50" fill="#16315e"/>
<rect x="271.05" y="220.05" width="2.50" height="2.50" fill="#16315e"/>
<rect x="268.75" y="226.15" width="2.50" height="2.50" fill="#16315e"/>
<rect x="273.45" y="223.35" width="2.50" height="2.50" fill="#16315e"/>
<line x1="305.40" y1="234.40" x2="305.40" y2="238.50" stroke="#a02535" stroke-width="0.7124999999999999"/>
<line x1="298.60" y1="234.40" x2="312.20" y2="234.40" stroke="#a02535" stroke-width="0.95"/>
<line x1="298.60" y1="238.50" x2="312.20" y2="238.50" stroke="#a02535" stroke-width="0.95" stroke-opacity="1.0"/>
<polygon points="301.60,230.71 304.40,230.71 303.00,233.09" fill="#8e1222"/>
<polygon points="306.50,230.71 309.30,230.71 307.90,233.09" fill="#8e1222"/>
<polygon points="304.00,235.01 306.80,235.01 305.40,237.39" fill="#8e1222"/>
<polygon points="301.60,239.41 304.40,239.41 303.00,241.79" fill="#8e1222"/>
<polygon points="306.50,239.41 309.30,239.41 307.90,241.79" fill="#8e1222"/>
<rect x="253.80" y="274.70" width="3.80" height="3.80" fill="#24427c"/>
<text x="260.57" y="278.80" font-size="6.40" fill="#1c1c1c" stroke="#1c1c1c" stroke-width="0.1" textLength="25.20" lengthAdjust="spacingAndGlyphs">Wild-type</text>
<polygon points="292.00,274.50 295.80,274.50 293.90,278.90" fill="#8e1526"/>
<text x="298.52" y="278.80" font-size="6.40" fill="#1c1c1c" stroke="#1c1c1c" stroke-width="0.1" textLength="22.93" lengthAdjust="spacingAndGlyphs">SRGN<tspan dy="-2.30" font-size="3.52" fill="#a8a8a8">−/−</tspan></text>
<text x="338.64" y="158.40" font-size="11.0" font-weight="bold" fill="#0d0d0d" stroke="#0d0d0d" stroke-width="0.25" textLength="9.01" lengthAdjust="spacingAndGlyphs">G</text>
<text x="389.10" y="176.30" font-size="8.00" fill="#1c1c1c" stroke="#1c1c1c" stroke-width="0.1" textLength="33.58" lengthAdjust="spacingAndGlyphs">CFU-Mks</text>
<rect x="372.90" y="208.10" width="30.30" height="46.80" fill="#8c9bc1"/>
<rect x="412.90" y="230.90" width="29.70" height="24.00" fill="#e68d80"/>
<line x1="363.30" y1="179.20" x2="363.30" y2="255.55" stroke="#252525" stroke-width="1.3"/>
<line x1="360.30" y1="254.90" x2="448.50" y2="254.90" stroke="#252525" stroke-width="1.3"/>
<line x1="360.30" y1="254.90" x2="363.30" y2="254.90" stroke="#252525" stroke-width="1"/>
<text x="353.77" y="257.19" font-size="6.40" fill="#3c3c3c" stroke="#3c3c3c" stroke-width="0.1" textLength="3.55" lengthAdjust="spacingAndGlyphs">0</text>
<line x1="360.30" y1="237.22" x2="363.30" y2="237.22" stroke="#252525" stroke-width="1"/>
<text x="350.22" y="239.52" font-size="6.40" fill="#3c3c3c" stroke="#3c3c3c" stroke-width="0.1" textLength="7.10" lengthAdjust="spacingAndGlyphs">10</text>
<line x1="360.30" y1="219.55" x2="363.30" y2="219.55" stroke="#252525" stroke-width="1"/>
<text x="350.22" y="221.84" font-size="6.40" fill="#3c3c3c" stroke="#3c3c3c" stroke-width="0.1" textLength="7.10" lengthAdjust="spacingAndGlyphs">20</text>
<line x1="360.30" y1="201.88" x2="363.30" y2="201.88" stroke="#252525" stroke-width="1"/>
<text x="350.22" y="204.17" font-size="6.40" fill="#3c3c3c" stroke="#3c3c3c" stroke-width="0.1" textLength="7.10" lengthAdjust="spacingAndGlyphs">30</text>
<line x1="360.30" y1="184.20" x2="363.30" y2="184.20" stroke="#252525" stroke-width="1"/>
<text x="350.22" y="186.49" font-size="6.40" fill="#3c3c3c" stroke="#3c3c3c" stroke-width="0.1" textLength="7.10" lengthAdjust="spacingAndGlyphs">40</text>
<line x1="388.20" y1="254.90" x2="388.20" y2="257.50" stroke="#252525" stroke-width="1"/>
<line x1="428.00" y1="254.90" x2="428.00" y2="257.50" stroke="#252525" stroke-width="1"/>
<text x="375.87" y="266.10" font-size="6.10" fill="#1c1c1c" stroke="#1c1c1c" stroke-width="0.1" textLength="24.90" lengthAdjust="spacingAndGlyphs">Wild-type</text>
<text x="416.21" y="266.10" font-size="6.10" fill="#1c1c1c" stroke="#1c1c1c" stroke-width="0.1" textLength="22.67" lengthAdjust="spacingAndGlyphs">SRGN<tspan dy="-2.20" font-size="3.35" fill="#a8a8a8">−/−</tspan></text>
<text x="0" y="0" font-size="7.30" fill="#1c1c1c" stroke="#1c1c1c" stroke-width="0.34" textLength="13.34" lengthAdjust="spacingAndGlyphs" transform="translate(345.40,223.86) rotate(-90)">CFUs</text>
<line x1="388.00" y1="191.95" x2="427.80" y2="191.95" stroke="#5a5a5a" stroke-width="1.1"/>
<circle cx="400.98" cy="188.35" r="0.8" fill="#2a2a2a"/>
<circle cx="403.73" cy="188.35" r="0.8" fill="#2a2a2a"/>
<circle cx="406.48" cy="188.35" r="0.8" fill="#2a2a2a"/>
<circle cx="409.23" cy="188.35" r="0.8" fill="#2a2a2a"/>
<line x1="388.30" y1="205.40" x2="388.30" y2="210.10" stroke="#2e5080" stroke-width="0.7124999999999999"/>
<line x1="380.70" y1="205.40" x2="395.90" y2="205.40" stroke="#2e5080" stroke-width="0.95"/>
<line x1="380.70" y1="210.10" x2="395.90" y2="210.10" stroke="#2e5080" stroke-width="0.95" stroke-opacity="1.0"/>
<rect x="384.40" y="200.70" width="2.20" height="2.20" fill="#16315e"/>
<rect x="390.00" y="198.60" width="2.20" height="2.20" fill="#16315e"/>
<rect x="390.00" y="202.50" width="2.20" height="2.20" fill="#16315e"/>
<rect x="384.40" y="204.30" width="2.20" height="2.20" fill="#16315e"/>
<rect x="387.20" y="207.70" width="2.20" height="2.20" fill="#16315e"/>
<rect x="384.40" y="211.10" width="2.20" height="2.20" fill="#16315e"/>
<rect x="390.00" y="213.20" width="2.20" height="2.20" fill="#16315e"/>
<rect x="387.20" y="216.40" width="2.20" height="2.20" fill="#16315e"/>
<line x1="428.00" y1="227.50" x2="428.00" y2="232.50" stroke="#a02535" stroke-width="0.7124999999999999"/>
<line x1="420.40" y1="227.50" x2="435.60" y2="227.50" stroke="#a02535" stroke-width="0.95"/>
<line x1="420.40" y1="232.50" x2="435.60" y2="232.50" stroke="#a02535" stroke-width="0.95" stroke-opacity="1.0"/>
<polygon points="426.75,220.14 429.25,220.14 428.00,222.26" fill="#8e1222"/>
<polygon points="423.85,224.84 426.35,224.84 425.10,226.96" fill="#8e1222"/>
<polygon points="429.65,224.84 432.15,224.84 430.90,226.96" fill="#8e1222"/>
<polygon points="421.05,227.94 423.55,227.94 422.30,230.06" fill="#8e1222"/>
<polygon points="426.75,228.94 429.25,228.94 428.00,231.06" fill="#8e1222"/>
<polygon points="432.55,229.94 435.05,229.94 433.80,232.06" fill="#8e1222"/>
<polygon points="426.75,238.54 429.25,238.54 428.00,240.66" fill="#8e1222"/>
<rect x="0" y="0" width="520" height="1" fill="#6a6a6a"/>
<rect x="0" y="1" width="520" height="1" fill="#ececec"/>
<rect x="0" y="0" width="1" height="287" fill="#747474"/>
<rect x="1" y="0" width="1" height="287" fill="#dedede"/>
<rect x="519" y="0" width="1" height="287" fill="#6a6a6a"/>
<rect x="518" y="0" width="1" height="287" fill="#e2e2e2"/>
<rect x="0" y="286" width="520" height="1" fill="#4a4a4a"/>
<rect x="0" y="285" width="520" height="1" fill="#cfcfcf"/>
</svg>
</body></html>
